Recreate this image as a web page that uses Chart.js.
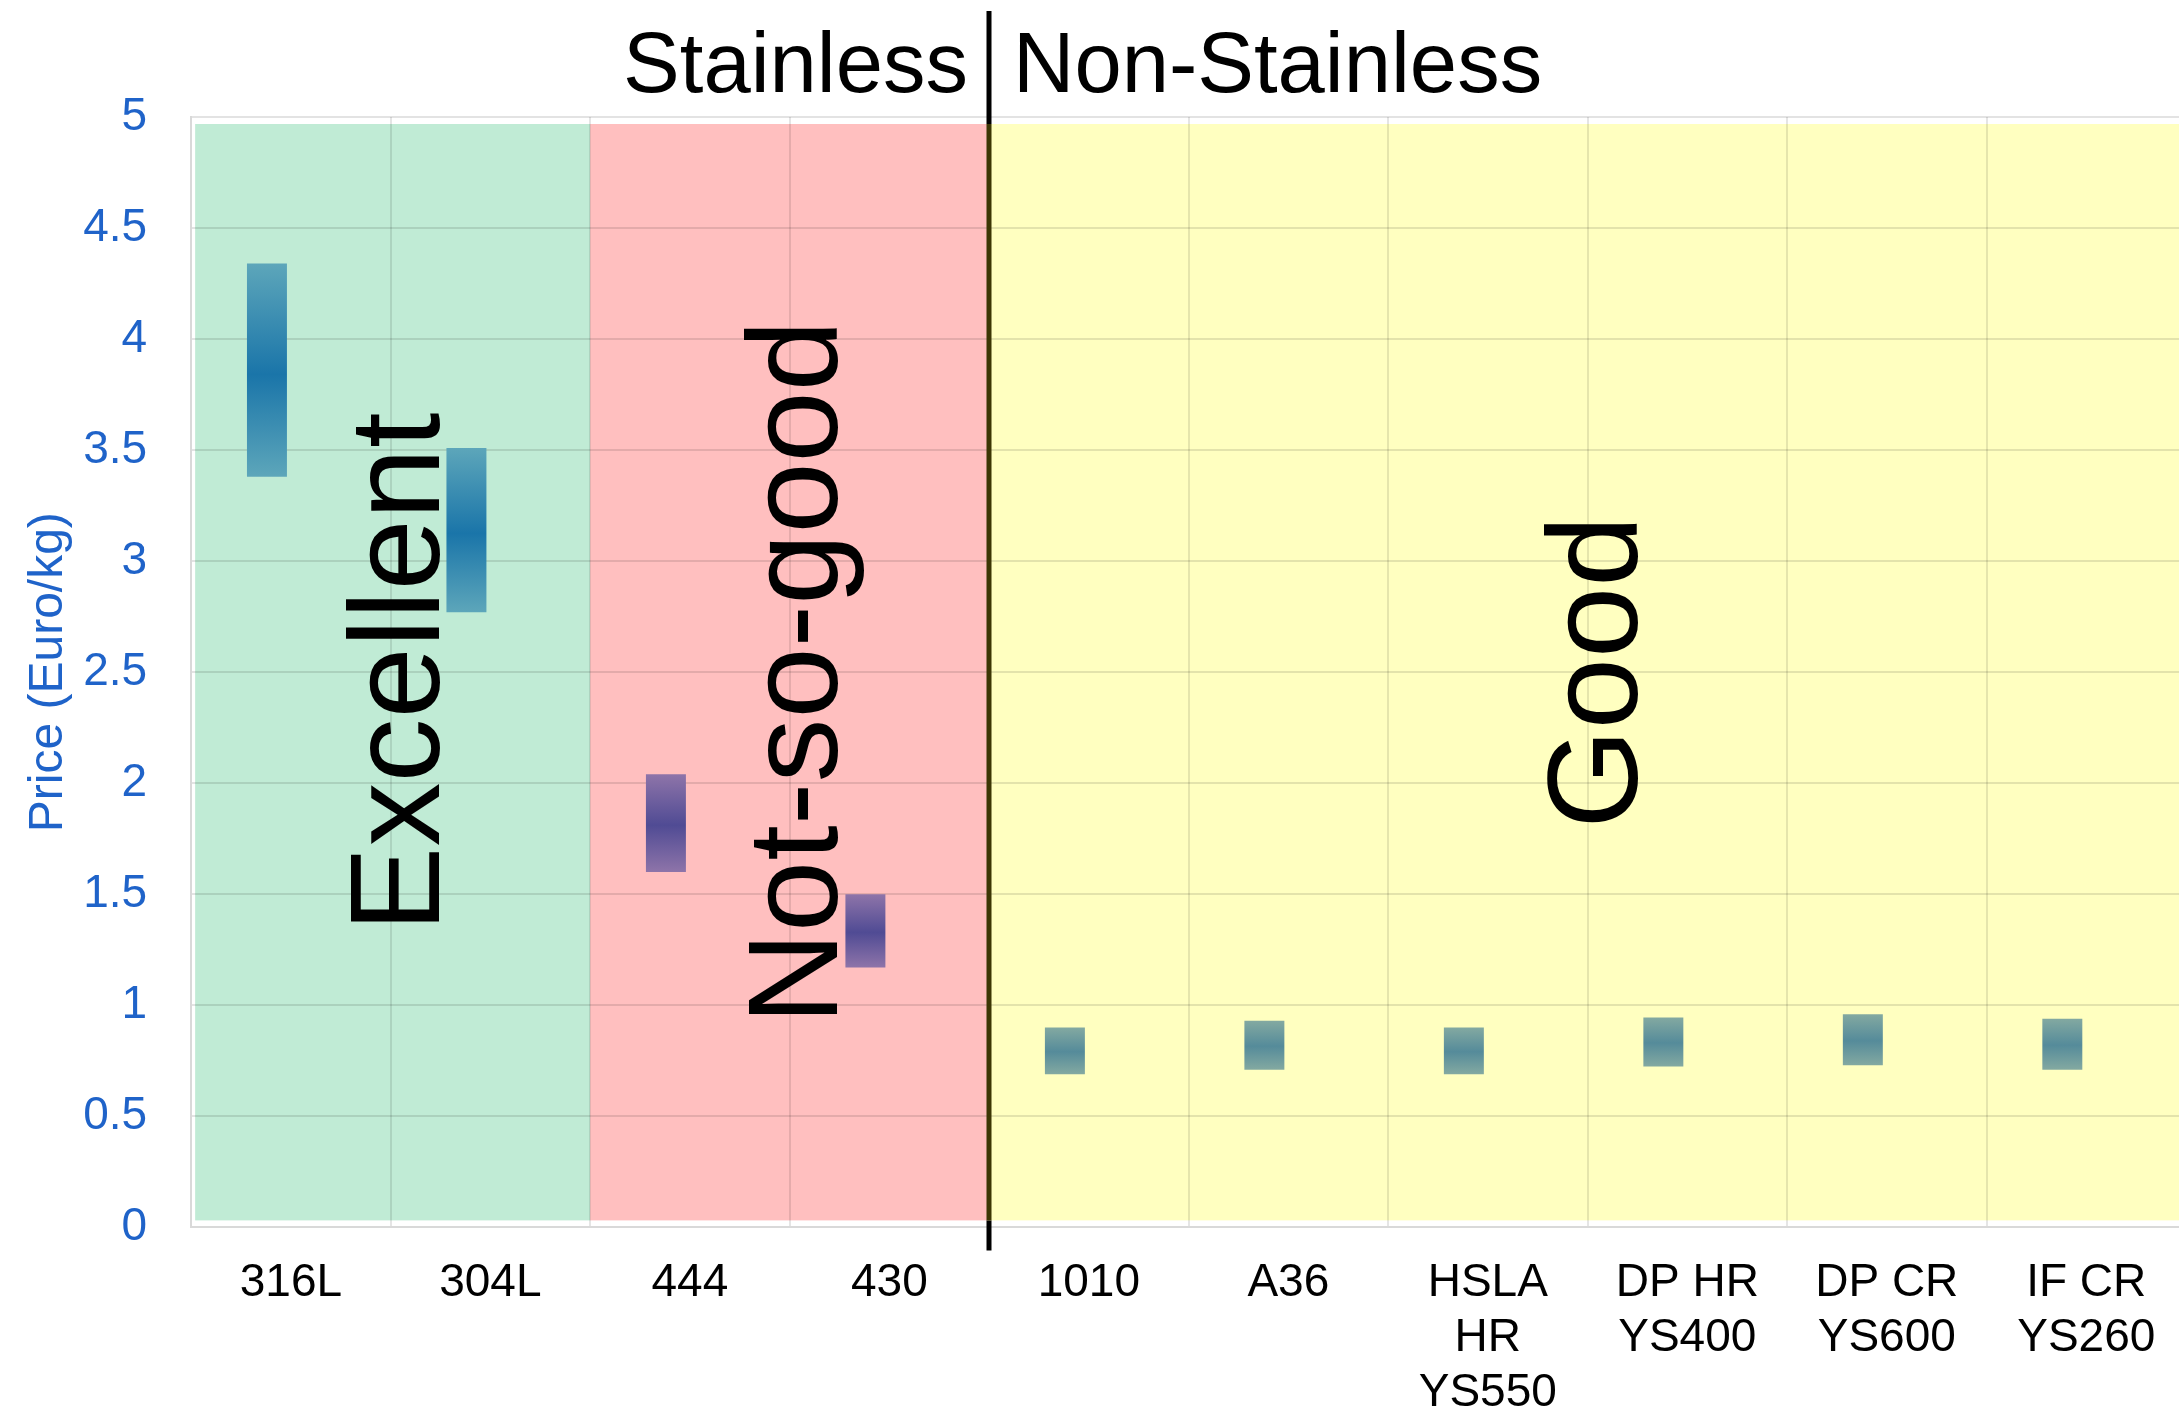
<!DOCTYPE html>
<html>
<head>
<meta charset="utf-8">
<title>Steel grades – price range</title>
<script src="https://cdn.jsdelivr.net/npm/chart.js@4.4.1/dist/chart.umd.min.js"></script>
<style>
  html, body { margin: 0; padding: 0; background: #fff; overflow: hidden; }
  canvas { display: block; }
</style>
</head>
<body>
<!-- slightly wider than the window: the last column runs off the right edge -->
<canvas id="chart" width="2186" height="1413"></canvas>
<script>
// grades on the x axis (arrays = multi-line labels)
const grades = ['316L', '304L', '444', '430', '1010', 'A36',
  ['HSLA', 'HR', 'YS550'], ['DP HR', 'YS400'], ['DP CR', 'YS600'], ['IF CR', 'YS260']];
// price range, Euro/kg
const priceLow  = [3.38, 2.77, 1.60, 1.17, 0.69, 0.71, 0.69, 0.725, 0.73, 0.71];
const priceHigh = [4.34, 3.51, 2.04, 1.50, 0.90, 0.93, 0.90, 0.945, 0.96, 0.94];
// steel family of each grade
const family = ['austenitic', 'austenitic', 'ferritic', 'ferritic',
  'carbon', 'carbon', 'carbon', 'carbon', 'carbon', 'carbon'];
// rating zones: name, first grade, last grade
const zoneNames = ['Excellent', 'Not-so-good', 'Good'];
const zoneFirst = [0, 2, 4];
const zoneLast  = [1, 3, 9];
// split between the two groups
const groupNames = ['Stainless', 'Non-Stainless'];
const groupSplit = 3.5;

const FONT = "'Liberation Sans', Arial, sans-serif";
const BLUE = '#1f63c9';

const barColors = {
  austenitic: { edge: '#5da6ba', mid: '#1a75a9' },
  ferritic:   { edge: '#8e74a9', mid: '#504b94' },
  carbon:     { edge: '#83a9a1', mid: '#558b9a' }
};

function barFill(c) {
  if (c.type !== 'data' || !c.raw) return 'rgba(0,0,0,0)';
  const y = c.chart.scales.y;
  const top = y.getPixelForValue(c.raw[1]);
  const bottom = y.getPixelForValue(c.raw[0]);
  const pal = barColors[family[c.dataIndex]];
  if (!isFinite(top) || !isFinite(bottom) || top === bottom) return pal.mid;
  const g = c.chart.ctx.createLinearGradient(0, top, 0, bottom);
  g.addColorStop(0, pal.edge);
  g.addColorStop(0.52, pal.mid);
  g.addColorStop(1, pal.edge);
  return g;
}

const zonePlugin = {
  id: 'zones',
  beforeDraw(chart, args, opts) {
    const { ctx, chartArea: a, scales: { x } } = chart;
    ctx.save();
    zoneNames.forEach((name, i) => {
      let left = x.getPixelForValue(zoneFirst[i] - 0.5);
      const right = x.getPixelForValue(zoneLast[i] + 0.5);
      if (i === 0) left += 4;
      ctx.fillStyle = opts.fills[i];
      ctx.fillRect(left, a.top + 7, right - left, a.bottom - a.top - 14);
    });
    ctx.restore();
  },
  beforeDatasetsDraw(chart, args, opts) {
    const { ctx, scales: { x, y } } = chart;
    ctx.save();
    ctx.fillStyle = '#000';
    ctx.font = '128px ' + FONT;
    ctx.textAlign = 'center';
    ctx.textBaseline = 'middle';
    zoneNames.forEach((name, i) => {
      ctx.save();
      ctx.translate(x.getPixelForValue(opts.labelAt[i]), y.getPixelForValue(2.5));
      ctx.rotate(-Math.PI / 2);
      ctx.fillText(name, 0, 0);
      ctx.restore();
    });
    ctx.restore();
  },
  afterDraw(chart) {
    const { ctx, chartArea: a, scales: { x } } = chart;
    const sx = Math.round(x.getPixelForValue(groupSplit));
    ctx.save();
    ctx.lineWidth = 5;
    ctx.strokeStyle = '#000';
    ctx.beginPath();
    ctx.moveTo(sx, 11); ctx.lineTo(sx, a.top + 7);
    ctx.moveTo(sx, a.bottom - 7); ctx.lineTo(sx, a.bottom + 23);
    ctx.stroke();
    ctx.strokeStyle = '#3c3604';
    ctx.beginPath();
    ctx.moveTo(sx, a.top + 7); ctx.lineTo(sx, a.bottom - 7);
    ctx.stroke();

    ctx.fillStyle = '#000';
    ctx.font = '85px ' + FONT;
    ctx.textBaseline = 'alphabetic';
    ctx.textAlign = 'right';
    ctx.fillText(groupNames[0], sx - 21, 92);
    ctx.textAlign = 'left';
    ctx.fillText(groupNames[1], sx + 24, 92);
    ctx.restore();
  }
};

Chart.defaults.font.family = FONT;

new Chart(document.getElementById('chart'), {
  type: 'bar',
  data: {
    labels: grades,
    datasets: [
      {
        label: 'Price range',
        data: grades.map((g, i) => [priceLow[i], priceHigh[i]]),
        backgroundColor: barFill,
        borderWidth: 0,
        categoryPercentage: 0.48,
        barPercentage: 0.835
      },
      {
        // empty companion series: keeps the range bars in the left slot
        label: '',
        data: grades.map(() => null),
        categoryPercentage: 0.48,
        barPercentage: 0.835
      }
    ]
  },
  options: {
    responsive: false,
    animation: false,
    layout: { padding: { top: 117, right: 0, bottom: -36, left: 0 } },
    plugins: {
      legend: { display: false },
      tooltip: { enabled: false },
      zones: {
        fills: ['#c0ebd5', '#ffbfbf', '#ffffc0'],
        labelAt: [0.565, 2.56, 6.57]
      }
    },
    scales: {
      x: {
        offset: true,
        grid: { offset: true, color: 'rgba(0,0,0,0.1)', lineWidth: 2, drawTicks: false },
        border: { color: '#d9d9d9', width: 2 },
        ticks: { color: '#000', font: { size: 46 }, padding: 28, maxRotation: 0, autoSkip: false }
      },
      y: {
        min: 0,
        max: 5,
        grid: { color: 'rgba(0,0,0,0.11)', lineWidth: 2, drawTicks: false },
        border: { color: '#d9d9d9', width: 2 },
        ticks: {
          stepSize: 0.5,
          color: BLUE,
          font: { size: 46 },
          padding: 44,
          callback: (v) => String(v)
        },
        title: {
          display: true,
          text: 'Price (Euro/kg)',
          color: BLUE,
          font: { size: 48 },
          padding: { top: 20, bottom: -38.4 }
        }
      }
    }
  },
  plugins: [zonePlugin]
});
</script>
</body>
</html>
